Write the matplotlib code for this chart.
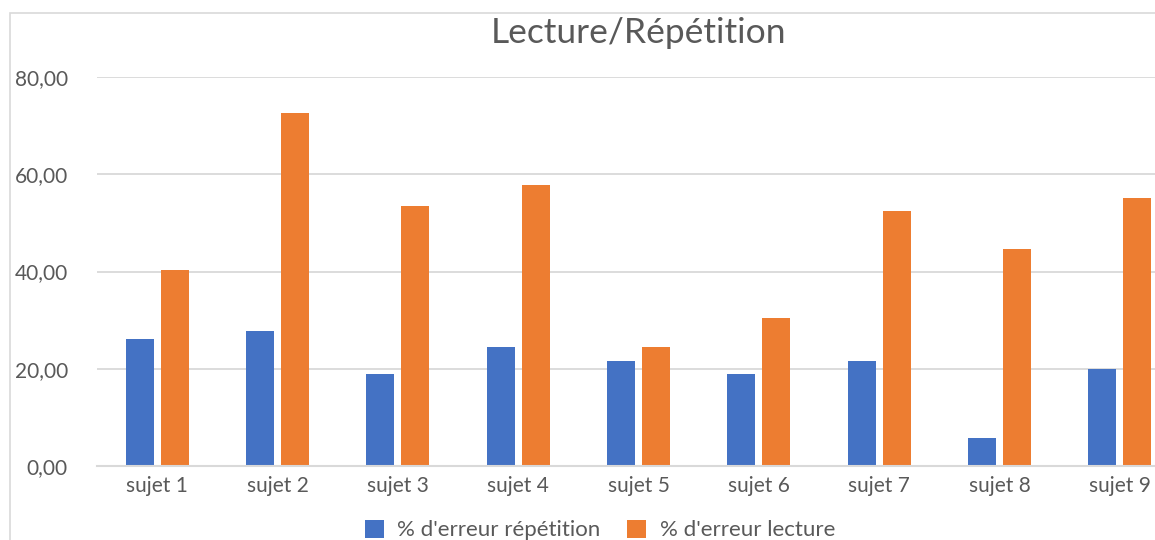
import numpy as np
import matplotlib
matplotlib.use("Agg")
import matplotlib.pyplot as plt
from matplotlib.patches import Rectangle

plt.rcParams['font.family'] = ['Lato', 'DejaVu Sans']

# data
sujets = ['sujet 1', 'sujet 2', 'sujet 3', 'sujet 4', 'sujet 5',
          'sujet 6', 'sujet 7', 'sujet 8', 'sujet 9']
erreur_repetition = [26.1, 27.7, 18.9, 24.4, 21.5, 18.9, 21.5, 5.7, 19.9]
erreur_lecture = [40.3, 72.6, 53.4, 57.8, 24.4, 30.4, 52.4, 44.6, 55.1]
yticks = [0, 20, 40, 60, 80]

blue = '#4472C4'
orange = '#ED7D31'
grid = '#D9D9D9'
txt = '#595959'

fig = plt.figure(figsize=(11.55, 5.4), dpi=100)

# chart border (cropped on the right and bottom)
fig.patches.append(Rectangle((10 / 1155, -0.2), 1.5, 1.2 - 13 / 540,
                             transform=fig.transFigure, fill=False,
                             edgecolor=grid, linewidth=1.2))

ax = fig.add_axes([97 / 1155, 74 / 540, (1180 - 97) / 1155, (466 - 77) / 540])

x = np.arange(len(sujets))
w = 0.232
ax.bar(x - 0.145, erreur_repetition, w, color=blue, label="% d'erreur répétition", zorder=3)
ax.bar(x + 0.145, erreur_lecture, w, color=orange, label="% d'erreur lecture", zorder=3)

ax.set_xlim(-0.5, len(sujets) - 0.5)
ax.set_ylim(0, 80)
ax.set_yticks(yticks)
ax.set_yticklabels([f"{v:.2f}".replace('.', ',') for v in yticks])
ax.set_xticks(x)
ax.set_xticklabels(sujets)
ax.tick_params(axis='both', length=0, labelsize=15, labelcolor=txt)
ax.tick_params(axis='y', pad=21)
ax.tick_params(axis='x', pad=7)

ax.yaxis.grid(True, color=grid, linewidth=1.3, zorder=0)
for s in ['top', 'right', 'left']:
    ax.spines[s].set_visible(False)
ax.spines['bottom'].set_color(grid)
ax.spines['bottom'].set_linewidth(1.5)
ax.spines['bottom'].set_zorder(4)

fig.text(638 / 1155, 1 - 33 / 540, 'Lecture/Répétition', ha='center', va='center',
         fontsize=25.5, color=txt)

fig.legend(loc='center', bbox_to_anchor=(600 / 1155, 1 - 530 / 540), ncol=2,
           frameon=False, fontsize=16, labelcolor=txt, handlelength=0.86,
           handleheight=0.86, handletextpad=0.59, columnspacing=1.21)

fig.savefig('out.png', dpi=100)
